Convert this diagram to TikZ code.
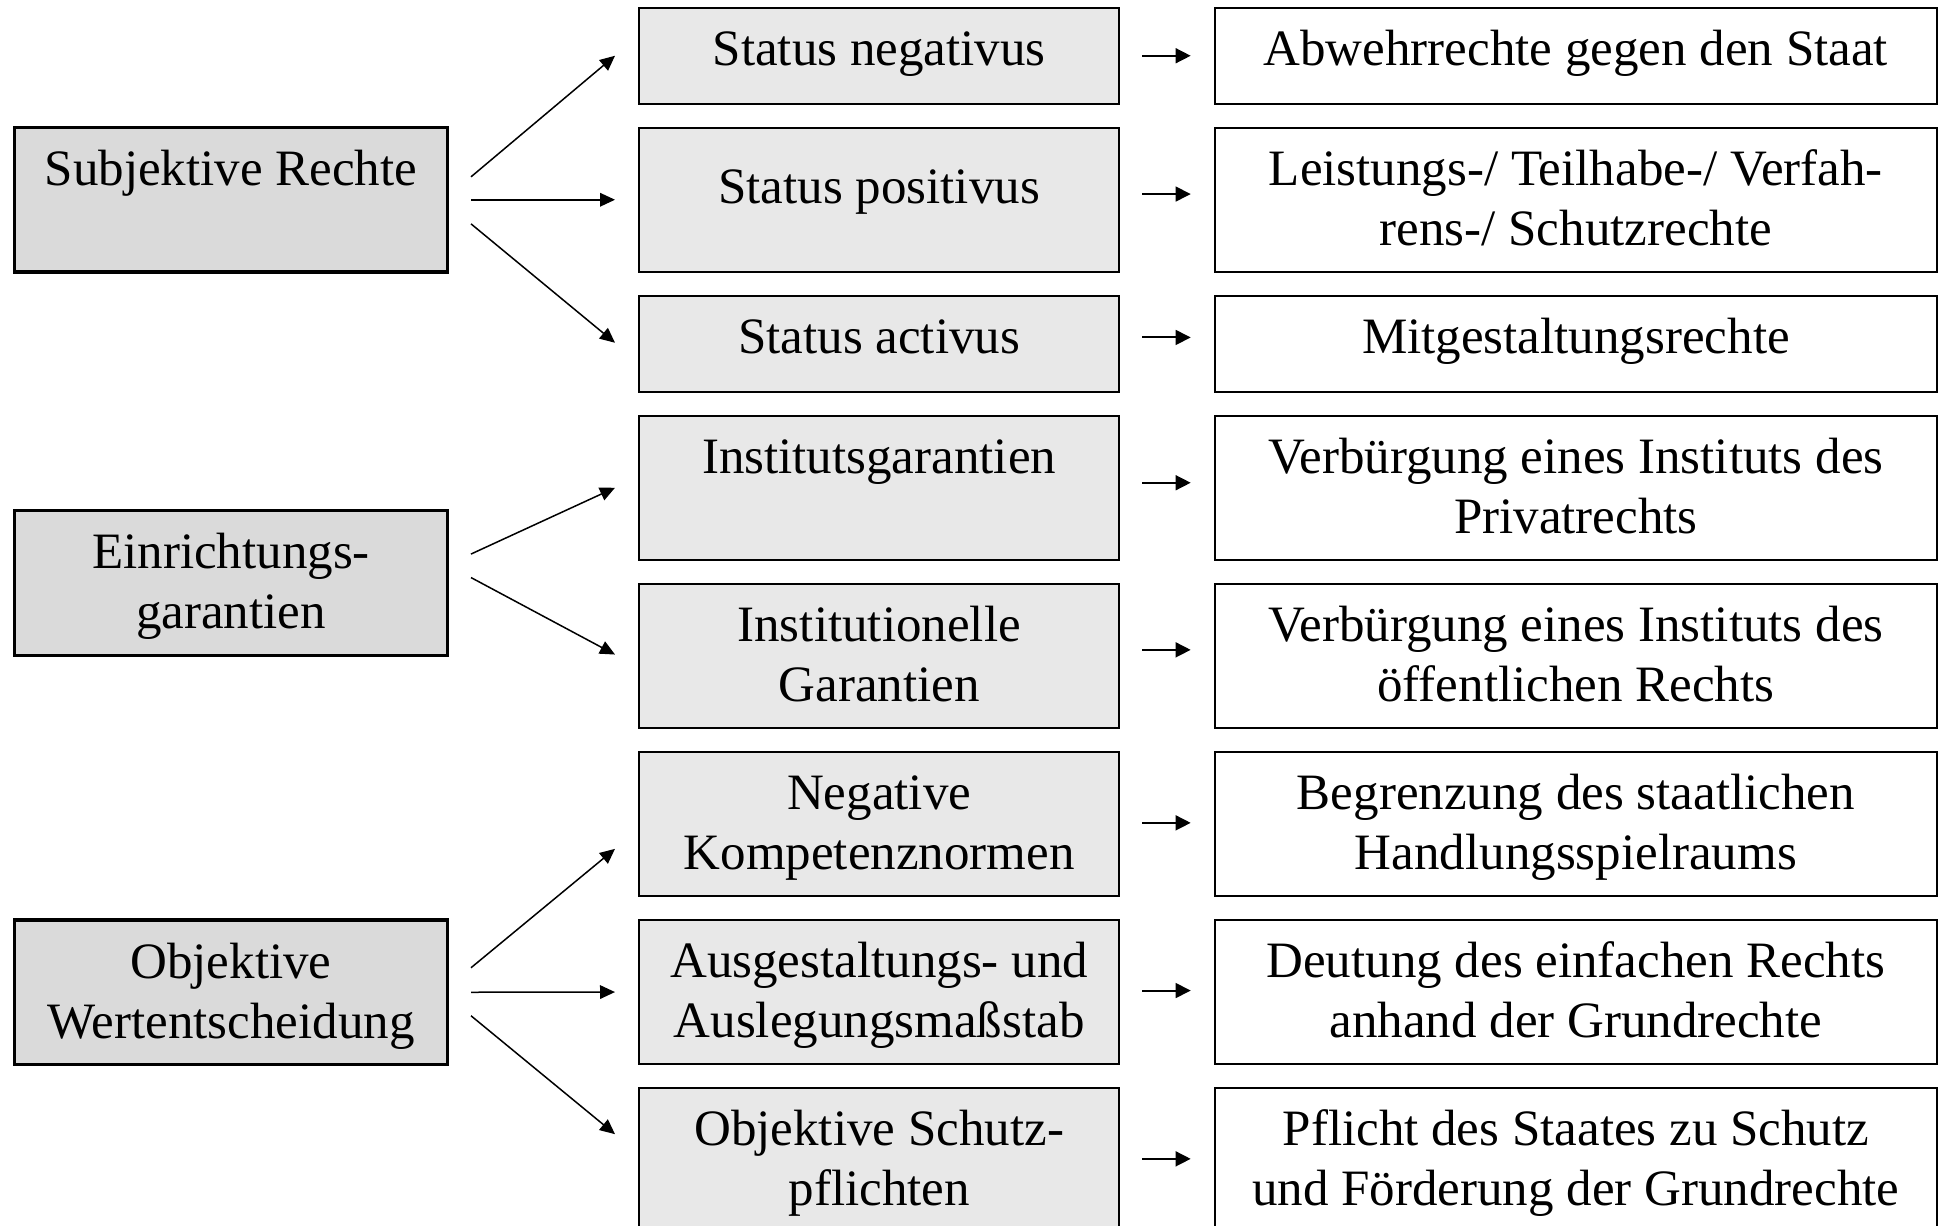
\documentclass[tikz,border=0pt]{standalone}
\usepackage{fontspec}
\setmainfont{Liberation Serif}
\usetikzlibrary{arrows.meta,calc}
\definecolor{leftfill}{HTML}{DADADA}
\definecolor{midfill}{HTML}{E8E8E8}
% #1 box height, #2 box width, #3 gap above the first line, #4 text
\newcommand\boxtxt[4]{\parbox[c][#1][t]{#2}{\centering\vspace*{#3}\rule{0pt}{20pt}#4\par}}
\newcommand\tallL[1]{\boxtxt{72.25pt}{216.25pt}{9pt}{#1}}
\newcommand\tallM[1]{\boxtxt{72.25pt}{240.15pt}{9pt}{#1}}
\newcommand\tallR[1]{\boxtxt{72.25pt}{360.6pt}{9pt}{#1}}
\newcommand\shortM[1]{\boxtxt{47.75pt}{240.15pt}{8.75pt}{#1}}
\newcommand\shortR[1]{\boxtxt{47.75pt}{360.6pt}{8.75pt}{#1}}
\tikzset{
  basebox/.style={draw=black, inner sep=0pt, outer sep=0pt, anchor=north west,
    font=\fontsize{25.5pt}{30pt}\selectfont},
  leftbox/.style={basebox, fill=leftfill, line width=1.6pt, minimum width=216.25pt, minimum height=72.25pt},
  midbox/.style={basebox, fill=midfill, line width=1pt, minimum width=240.15pt},
  rightbox/.style={basebox, fill=white, line width=1pt, minimum width=360.6pt},
  tall/.style={minimum height=72.25pt},
  short/.style={minimum height=47.75pt},
  bigarrow/.style={-{Triangle[length=7.5pt,width=6.8pt]}, line width=0.75pt},
  smallarrow/.style={-{Triangle[length=7.5pt,width=7.4pt]}, line width=1pt}
}
\begin{document}
\begin{tikzpicture}[x=0.5pt,y=-0.5pt]
\clip (0,0) rectangle (1939,1226);
\fill[white] (0,0) rectangle (1939,1226);

% left column
\node[leftbox] (sub) at (14.8,127.5) {\tallL{Subjektive Rechte}};
\node[leftbox] (ein) at (14.8,510.8) {\tallL{Einrichtungs-\\garantien}};
\node[leftbox] (obj) at (14.8,920)   {\tallL{Objektive\\Wertentscheidung}};

% middle column
\node[midbox,short] (sn)  at (639,8)      {\shortM{Status negativus}};
\node[midbox,tall]  (sp)  at (639,127.5)  {\boxtxt{72.25pt}{240.15pt}{18pt}{Status positivus}};
\node[midbox,short] (sa)  at (639,296)    {\shortM{Status activus}};
\node[midbox,tall]  (ig)  at (639,415.5)  {\tallM{Institutsgarantien}};
\node[midbox,tall]  (ing) at (639,583.8)  {\tallM{Institutionelle\\Garantien}};
\node[midbox,tall]  (nk)  at (639,751.9)  {\tallM{Negative\\Kompetenznormen}};
\node[midbox,tall]  (aa)  at (639,919.8)  {\tallM{Ausgestaltungs- und\\Auslegungsmaßstab}};
\node[midbox,tall]  (os)  at (639,1087.9) {\tallM{Objektive Schutz-\\pflichten}};

% right column
\node[rightbox,short] (rsn)  at (1215.3,8)      {\shortR{Abwehrrechte gegen den Staat}};
\node[rightbox,tall]  (rsp)  at (1215.3,127.5)  {\tallR{Leistungs-/ Teilhabe-/ Verfah-\\rens-/ Schutzrechte}};
\node[rightbox,short] (rsa)  at (1215.3,296)    {\shortR{Mitgestaltungsrechte}};
\node[rightbox,tall]  (rig)  at (1215.3,415.5)  {\tallR{Verbürgung eines Instituts des\\Privatrechts}};
\node[rightbox,tall]  (ring) at (1215.3,583.8)  {\tallR{Verbürgung eines Instituts des\\öffentlichen Rechts}};
\node[rightbox,tall]  (rnk)  at (1215.3,751.9)  {\tallR{Begrenzung des staatlichen\\Handlungsspielraums}};
\node[rightbox,tall]  (raa)  at (1215.3,919.8)  {\tallR{Deutung des einfachen Rechts\\anhand der Grundrechte}};
\node[rightbox,tall]  (ros)  at (1215.3,1087.9) {\tallR{Pflicht des Staates zu Schutz\\und Förderung der Grundrechte}};

% arrows from left boxes
\draw[bigarrow] ($(sub.east)+(23.7,-22.9)$) -- ($(sn.west)+(-24,0)$);
\draw[bigarrow] ($(sub.east)+(23.7,0)$)     -- ($(sp.west)+(-24,0)$);
\draw[bigarrow] ($(sub.east)+(23.7,24.1)$)  -- ($(sa.west)+(-24,-1)$);

\draw[bigarrow] ($(ein.east)+(23.7,-29)$)   -- ($(ig.west)+(-24,0)$);
\draw[bigarrow] ($(ein.east)+(23.7,-5.5)$)  -- ($(ing.west)+(-24,-1.5)$);

\draw[bigarrow] ($(obj.east)+(23.7,-24.5)$) -- ($(nk.west)+(-24,24.7)$);
\draw[bigarrow] ($(obj.east)+(23.7,0)$)     -- ($(aa.west)+(-24,0)$);
\draw[bigarrow] ($(obj.east)+(23.7,23.5)$)  -- ($(os.west)+(-24,-26)$);

% small arrows
\draw[smallarrow] ($(sn.east)+(23,0)$)    -- ($(rsn.west)+(-24.6,0)$);
\draw[smallarrow] ($(sp.east)+(23,-5.7)$) -- ($(rsp.west)+(-24.6,-5.7)$);
\draw[smallarrow] ($(sa.east)+(23,-6.3)$) -- ($(rsa.west)+(-24.6,-6.3)$);
\draw[smallarrow] ($(ig.east)+(23,-5)$)   -- ($(rig.west)+(-24.6,-5)$);
\draw[smallarrow] ($(ing.east)+(23,-6.2)$) -- ($(ring.west)+(-24.6,-6.2)$);
\draw[smallarrow] ($(nk.east)+(23,-1.3)$) -- ($(rnk.west)+(-24.6,-1.3)$);
\draw[smallarrow] ($(aa.east)+(23,-1.5)$) -- ($(raa.west)+(-24.6,-1.5)$);
\draw[smallarrow] ($(os.east)+(23,-1.3)$) -- ($(ros.west)+(-24.6,-1.3)$);
\end{tikzpicture}
\end{document}
